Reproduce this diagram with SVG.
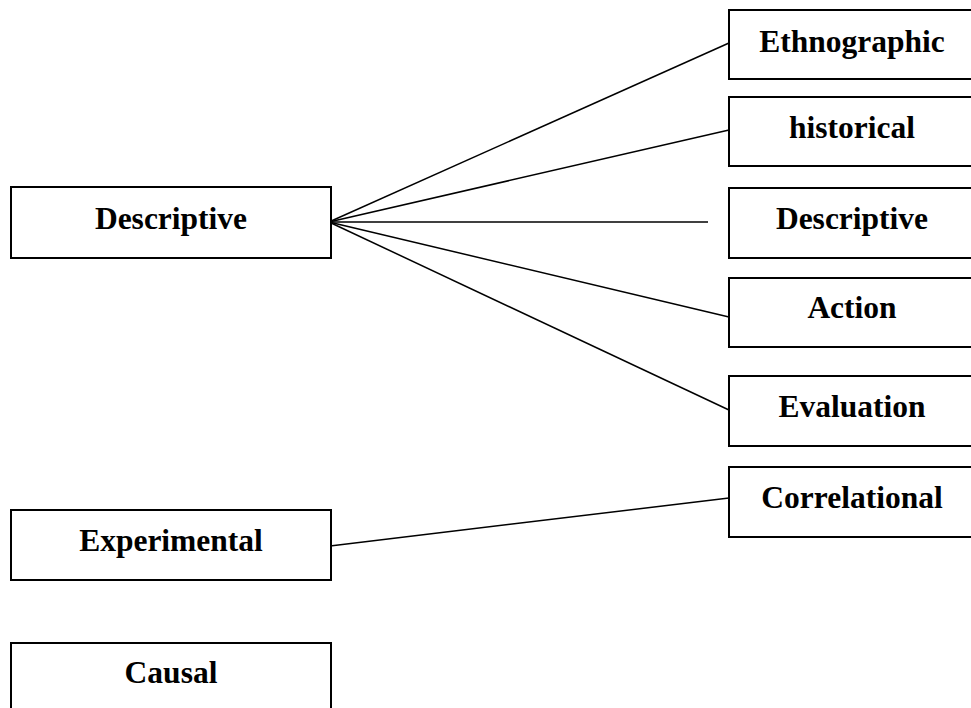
<svg xmlns="http://www.w3.org/2000/svg" width="971" height="708" viewBox="0 0 971 708">
<style>
.box{fill:#fff;stroke:#000;stroke-width:2}
.lbl{font-family:"Liberation Serif","Times New Roman",serif;font-weight:bold;font-size:31.5px;text-anchor:middle;fill:#000}
.conn{stroke:#000;stroke-width:1.5;fill:none}
</style>
<rect width="971" height="708" fill="#fff"/>
<g id="connectors">
<line class="conn" x1="329" y1="222" x2="729" y2="43"/>
<line class="conn" x1="329" y1="222" x2="729" y2="130"/>
<line class="conn" x1="329" y1="222" x2="708" y2="222"/>
<line class="conn" x1="329" y1="222" x2="729" y2="317"/>
<line class="conn" x1="329" y1="222" x2="729" y2="410"/>
<line class="conn" x1="330" y1="546" x2="729" y2="498"/>
</g>
<g id="n-descriptive-left"><rect class="box" x="11" y="187" width="320" height="71"/><text class="lbl" x="171" y="229">Descriptive</text></g>
<g id="n-experimental"><rect class="box" x="11" y="510" width="320" height="70"/><text class="lbl" x="171" y="551">Experimental</text></g>
<g id="n-causal"><rect class="box" x="11" y="643" width="320" height="72"/><text class="lbl" x="171" y="683">Causal</text></g>
<g id="n-ethnographic"><rect class="box" x="729" y="10" width="246" height="69"/><text class="lbl" x="852" y="52">Ethnographic</text></g>
<g id="n-historical"><rect class="box" x="729" y="97" width="246" height="69"/><text class="lbl" x="852" y="138">historical</text></g>
<g id="n-descriptive-right"><rect class="box" x="729" y="188" width="246" height="70"/><text class="lbl" x="852" y="229">Descriptive</text></g>
<g id="n-action"><rect class="box" x="729" y="278" width="246" height="69"/><text class="lbl" x="852" y="318">Action</text></g>
<g id="n-evaluation"><rect class="box" x="729" y="376" width="246" height="70"/><text class="lbl" x="852" y="417">Evaluation</text></g>
<g id="n-correlational"><rect class="box" x="729" y="467" width="246" height="70"/><text class="lbl" x="852" y="508">Correlational</text></g>
</svg>
